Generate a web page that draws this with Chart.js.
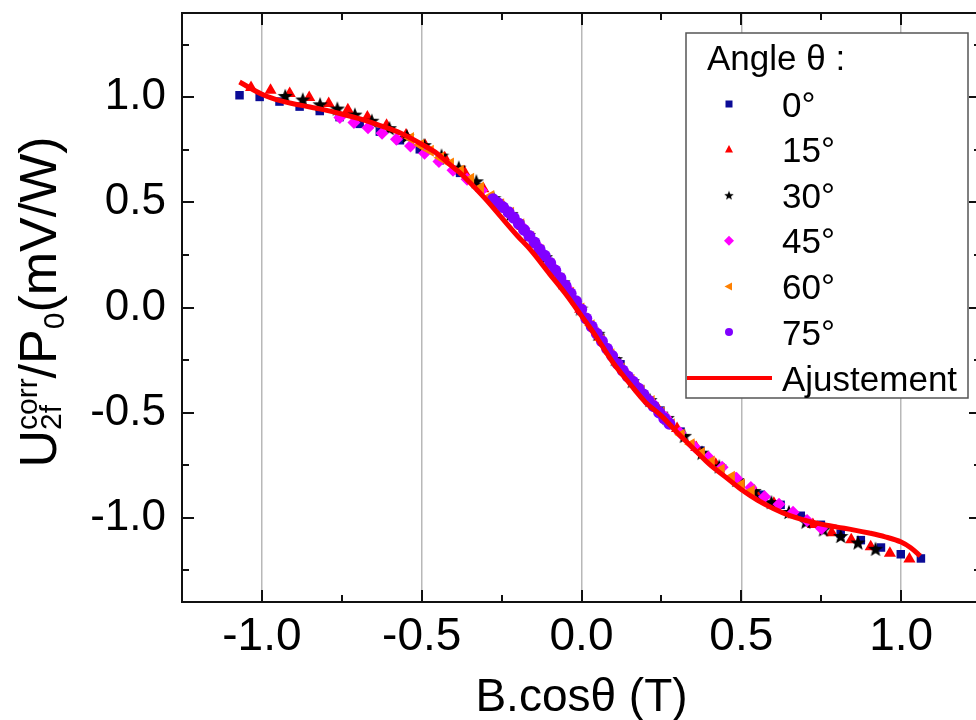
<!DOCTYPE html>
<html>
<head>
<meta charset="utf-8">
<title>U2f corr / P0 vs B.cos(theta)</title>
<script src="https://cdn.jsdelivr.net/npm/chart.js@4/dist/chart.umd.min.js"></script>
<style>
  html, body { margin: 0; padding: 0; background: #fff; overflow: hidden; }
  #wrap { width: 976px; height: 720px; overflow: hidden; }
  canvas { display: block; }
</style>
</head>
<body>
<div id="wrap"><canvas id="chart" width="990" height="720" style="width:990px;height:720px"></canvas></div>
<script>
// ---- data ----
const seriesLabels = ['0°', '15°', '30°', '45°', '60°', '75°'];
const fitLabel = 'Ajustement';
const legendTitle = 'Angle θ :';
const xTitle = 'B.cosθ (T)';

const xTicks = [-1.0, -0.5, 0.0, 0.5, 1.0];
const xMinor = [-0.75, -0.25, 0.25, 0.75];
const yTicks = [-1.0, -0.5, 0.0, 0.5, 1.0];
const yMinor = [-1.25, -0.75, -0.25, 0.25, 0.75, 1.25];

// 0 deg
const x0 = [-1.070, -1.007, -0.945, -0.882, -0.819, -0.757, -0.694, -0.631, -0.568, -0.506, -0.443, -0.380, -0.318, -0.255, -0.192, -0.130, -0.067, -0.004, 0.059, 0.122, 0.184, 0.247, 0.310, 0.372, 0.435, 0.498, 0.561, 0.623, 0.686, 0.749, 0.811, 0.874, 0.937, 0.999, 1.062];
const y0 = [1.009, 1.001, 0.979, 0.955, 0.934, 0.905, 0.873, 0.836, 0.795, 0.752, 0.700, 0.640, 0.570, 0.488, 0.395, 0.275, 0.140, -0.010, -0.145, -0.270, -0.390, -0.490, -0.590, -0.680, -0.760, -0.838, -0.890, -0.938, -0.990, -1.033, -1.075, -1.106, -1.141, -1.173, -1.193];
// 15 deg
const x15 = [-1.034, -0.973, -0.913, -0.852, -0.791, -0.731, -0.670, -0.610, -0.549, -0.489, -0.428, -0.367, -0.307, -0.246, -0.185, -0.126, -0.065, -0.004, 0.057, 0.118, 0.178, 0.239, 0.299, 0.359, 0.420, 0.481, 0.542, 0.602, 0.663, 0.724, 0.783, 0.844, 0.905, 0.965, 1.026];
const y15 = [1.046, 1.033, 1.017, 0.998, 0.970, 0.940, 0.906, 0.866, 0.820, 0.770, 0.712, 0.645, 0.565, 0.485, 0.385, 0.268, 0.135, -0.008, -0.140, -0.265, -0.380, -0.480, -0.575, -0.665, -0.745, -0.815, -0.875, -0.930, -0.985, -1.032, -1.071, -1.104, -1.137, -1.168, -1.196];
// 30 deg
const x30 = [-0.927, -0.872, -0.818, -0.764, -0.709, -0.656, -0.601, -0.546, -0.492, -0.438, -0.384, -0.329, -0.275, -0.221, -0.166, -0.113, -0.058, -0.003, 0.051, 0.106, 0.159, 0.214, 0.268, 0.322, 0.377, 0.431, 0.486, 0.540, 0.594, 0.649, 0.702, 0.757, 0.811, 0.865, 0.920];
const y30 = [1.006, 0.989, 0.966, 0.946, 0.917, 0.888, 0.853, 0.815, 0.772, 0.722, 0.665, 0.600, 0.520, 0.445, 0.345, 0.240, 0.120, -0.005, -0.125, -0.245, -0.350, -0.440, -0.525, -0.610, -0.690, -0.755, -0.820, -0.872, -0.925, -0.972, -1.018, -1.055, -1.086, -1.117, -1.147];
// 45 deg
const x45 = [-0.756, -0.712, -0.668, -0.624, -0.579, -0.535, -0.491, -0.446, -0.402, -0.358, -0.313, -0.269, -0.225, -0.180, -0.136, -0.092, -0.047, -0.003, 0.042, 0.086, 0.130, 0.175, 0.219, 0.263, 0.308, 0.352, 0.397, 0.440, 0.485, 0.530, 0.573, 0.618, 0.662, 0.706, 0.751];
const y45 = [0.903, 0.879, 0.855, 0.828, 0.800, 0.768, 0.733, 0.694, 0.652, 0.610, 0.556, 0.500, 0.445, 0.375, 0.290, 0.195, 0.095, -0.010, -0.112, -0.210, -0.300, -0.380, -0.450, -0.522, -0.595, -0.660, -0.712, -0.760, -0.812, -0.856, -0.900, -0.935, -0.973, -1.012, -1.050];
// 60 deg
const x60 = [-0.535, -0.504, -0.473, -0.441, -0.410, -0.379, -0.347, -0.316, -0.284, -0.253, -0.222, -0.190, -0.159, -0.128, -0.096, -0.065, -0.034, -0.002, 0.030, 0.061, 0.092, 0.124, 0.155, 0.186, 0.218, 0.249, 0.281, 0.312, 0.343, 0.375, 0.406, 0.437, 0.469, 0.500, 0.531];
const y60 = [0.805, 0.772, 0.745, 0.712, 0.684, 0.650, 0.612, 0.570, 0.530, 0.490, 0.450, 0.395, 0.335, 0.272, 0.205, 0.138, 0.070, -0.005, -0.085, -0.155, -0.222, -0.290, -0.345, -0.395, -0.445, -0.500, -0.555, -0.605, -0.650, -0.692, -0.732, -0.770, -0.805, -0.842, -0.872];
// 75 deg
const x75 = [-0.277, -0.261, -0.245, -0.228, -0.212, -0.196, -0.180, -0.163, -0.147, -0.131, -0.115, -0.098, -0.082, -0.066, -0.050, -0.034, -0.017, -0.001, 0.015, 0.032, 0.048, 0.064, 0.080, 0.096, 0.113, 0.129, 0.145, 0.161, 0.178, 0.194, 0.210, 0.226, 0.243, 0.259, 0.275];
const y75 = [0.515, 0.495, 0.476, 0.453, 0.427, 0.398, 0.369, 0.340, 0.309, 0.276, 0.246, 0.212, 0.176, 0.140, 0.104, 0.067, 0.030, -0.010, -0.052, -0.090, -0.125, -0.160, -0.196, -0.230, -0.268, -0.300, -0.328, -0.353, -0.385, -0.414, -0.443, -0.470, -0.499, -0.528, -0.553];
// fit curve (Ajustement)
const xFit = [-1.07, -1.0, -0.94, -0.88, -0.815, -0.75, -0.69, -0.63, -0.565, -0.5, -0.45, -0.42, -0.38, -0.35, -0.3, -0.26, -0.2, -0.16, -0.1, -0.05, 0, 0.04, 0.1, 0.15, 0.2, 0.25, 0.3, 0.35, 0.4, 0.45, 0.5, 0.55, 0.6, 0.65, 0.7, 0.75, 0.8, 0.85, 0.9, 0.95, 1.0, 1.03, 1.06];
const yFit = [1.072, 1.014, 0.982, 0.962, 0.943, 0.920, 0.895, 0.865, 0.828, 0.776, 0.730, 0.690, 0.640, 0.595, 0.515, 0.445, 0.340, 0.275, 0.160, 0.065, -0.040, -0.125, -0.265, -0.360, -0.450, -0.515, -0.595, -0.670, -0.745, -0.805, -0.865, -0.915, -0.955, -0.988, -1.012, -1.030, -1.044, -1.057, -1.072, -1.090, -1.115, -1.142, -1.181];

// ---- styles ----
const FONT = '"Liberation Sans", Arial, Helvetica, sans-serif';
const colors = ['#0b0b96', '#ff0000', '#000000', '#ff00ff', '#ff8000', '#8000ff'];

// filled five-point star, used as a point image
function makeStar(size, color) {
    const c = document.createElement('canvas');
    c.width = size;
    c.height = size;
    const g = c.getContext('2d');
    const R = size / 2, r = R * 0.42;
    g.beginPath();
    for (let i = 0; i < 10; i++) {
        const a = -Math.PI / 2 + i * Math.PI / 5;
        const rad = i % 2 ? r : R;
        g.lineTo(R + rad * Math.cos(a), R + rad * Math.sin(a) + size * 0.05);
    }
    g.closePath();
    g.fillStyle = color;
    g.fill();
    return c;
}
const starBig = makeStar(16, '#000');
const starSmall = makeStar(10, '#000');

const pointStyles = ['rect', 'triangle', starBig, 'rectRot', 'triangle', 'circle'];
const pointRot = [0, 0, 0, 0, -90, 0];
const pointSizes = [6, 7, 6, 6.5, 7, 6];

function toPoints(xs, ys) {
    return xs.map((x, i) => ({ x: x, y: ys[i] }));
}
const seriesX = [x0, x15, x30, x45, x60, x75];
const seriesY = [y0, y15, y30, y45, y60, y75];

const datasets = [{
    label: fitLabel,
    data: toPoints(xFit, yFit),
    showLine: true,
    borderColor: '#ff0000',
    borderWidth: 5,
    pointRadius: 0,
    cubicInterpolationMode: 'monotone',
    order: 0
}];
seriesLabels.forEach((lab, i) => {
    datasets.push({
        label: lab,
        data: toPoints(seriesX[i], seriesY[i]),
        pointStyle: pointStyles[i],
        rotation: pointRot[i],
        pointRadius: pointSizes[i],
        backgroundColor: colors[i],
        borderWidth: 0,
        order: 6 - i + 1
    });
});

// ---- custom legend, frame, ticks and titles ----
function legendMarker(ctx, i, x, y) {
    ctx.fillStyle = colors[i];
    ctx.beginPath();
    if (i === 0) {
        ctx.rect(x - 3.5, y - 3.5, 7, 7);
    } else if (i === 1) {
        ctx.moveTo(x, y - 4.5); ctx.lineTo(x + 4, y + 3); ctx.lineTo(x - 4, y + 3);
    } else if (i === 2) {
        ctx.drawImage(starSmall, x - 5, y - 5);
        return;
    } else if (i === 3) {
        ctx.moveTo(x, y - 5); ctx.lineTo(x + 5, y); ctx.lineTo(x, y + 5); ctx.lineTo(x - 5, y);
    } else if (i === 4) {
        ctx.moveTo(x - 4.5, y); ctx.lineTo(x + 3, y - 4); ctx.lineTo(x + 3, y + 4);
    } else {
        ctx.arc(x, y, 4, 0, Math.PI * 2);
    }
    ctx.closePath();
    ctx.fill();
}

const decorations = {
    id: 'decorations',
    afterDraw(chart) {
        const { ctx, chartArea: a, scales: { x, y } } = chart;
        ctx.save();

        // frame
        ctx.strokeStyle = '#111';
        ctx.lineWidth = 2;
        ctx.strokeRect(a.left, a.top, a.right - a.left, a.bottom - a.top);

        // inward ticks on all four sides
        ctx.lineWidth = 2;
        ctx.beginPath();
        const xt = xTicks.map(v => [v, 12]).concat(xMinor.map(v => [v, 7]));
        xt.forEach(([v, len]) => {
            const px = Math.round(x.getPixelForValue(v));
            ctx.moveTo(px, a.bottom); ctx.lineTo(px, a.bottom - len);
            ctx.moveTo(px, a.top); ctx.lineTo(px, a.top + len);
        });
        const yt = yTicks.map(v => [v, 12]).concat(yMinor.map(v => [v, 7]));
        yt.forEach(([v, len]) => {
            const py = Math.round(y.getPixelForValue(v));
            ctx.moveTo(a.left, py); ctx.lineTo(a.left + len, py);
            ctx.moveTo(a.right, py); ctx.lineTo(a.right - len, py);
        });
        ctx.stroke();

        // legend box
        const lx = 686, ly = 33, lw = 282, lh = 365;
        ctx.fillStyle = '#fff';
        ctx.fillRect(lx, ly, lw, lh);
        ctx.strokeStyle = '#555';
        ctx.lineWidth = 1.5;
        ctx.strokeRect(lx, ly, lw, lh);
        ctx.fillStyle = '#000';
        ctx.font = '35px ' + FONT;
        ctx.textAlign = 'left';
        ctx.textBaseline = 'alphabetic';
        ctx.fillText(legendTitle, 707, 70);
        seriesLabels.forEach((lab, i) => {
            const cy = 104 + i * 45.6;
            legendMarker(ctx, i, 729, cy);
            ctx.fillStyle = '#000';
            ctx.fillText(lab, 782, cy + 12.5);
        });
        const fy = 378;
        ctx.strokeStyle = '#ff0000';
        ctx.lineWidth = 4;
        ctx.beginPath();
        ctx.moveTo(687, fy); ctx.lineTo(772, fy);
        ctx.stroke();
        ctx.fillStyle = '#000';
        ctx.fillText(fitLabel, 782, fy + 12.5);

        // x axis title
        ctx.font = '46px ' + FONT;
        ctx.textAlign = 'center';
        ctx.fillText(xTitle, (a.left + a.right) / 2, 711);

        // y axis title with sub/superscripts
        const segs = [
            { text: 'U', size: 52, shift: 0 },
            { text: 'corr', size: 30, shift: -19, under: '2f', underShift: 5 },
            { text: '/P', size: 52, shift: 0 },
            { text: '0', size: 30, shift: 8 },
            { text: '(mV/W)', size: 52, shift: 0 }
        ];
        let total = 0;
        segs.forEach(s => {
            ctx.font = s.size + 'px ' + FONT;
            let w = ctx.measureText(s.text).width;
            if (s.under) w = Math.max(w, ctx.measureText(s.under).width);
            s.w = w;
            total += w;
        });
        ctx.translate(56, 302);
        ctx.rotate(-Math.PI / 2);
        ctx.textAlign = 'left';
        let cx = -total / 2;
        segs.forEach(s => {
            ctx.font = s.size + 'px ' + FONT;
            ctx.fillText(s.text, cx, s.shift);
            if (s.under) ctx.fillText(s.under, cx, s.underShift);
            cx += s.w;
        });
        ctx.restore();
    }
};

new Chart(document.getElementById('chart'), {
    type: 'scatter',
    data: { datasets: datasets },
    options: {
        responsive: false,
        animation: false,
        layout: { autoPadding: false, padding: { top: 13, right: 9, left: 0, bottom: 0 } },
        plugins: { legend: { display: false }, tooltip: { enabled: false } },
        scales: {
            x: {
                type: 'linear',
                min: -1.25,
                max: 1.25,
                afterBuildTicks: s => { s.ticks = xTicks.map(v => ({ value: v })); },
                afterFit: s => { s.height = 118; s.paddingLeft = 0; s.paddingRight = 0; },
                ticks: {
                    autoSkip: false,
                    maxRotation: 0,
                    padding: 8,
                    color: '#000',
                    font: { family: FONT, size: 46 },
                    callback: v => v.toFixed(1)
                },
                grid: { color: '#b8b8b8', lineWidth: 1.5, drawTicks: false },
                border: { display: false }
            },
            y: {
                type: 'linear',
                min: -1.4,
                max: 1.4,
                afterBuildTicks: s => { s.ticks = yTicks.map(v => ({ value: v })); },
                afterFit: s => { s.width = 182; s.paddingTop = 0; s.paddingBottom = 0; },
                ticks: {
                    autoSkip: false,
                    padding: 16,
                    color: '#000',
                    font: { family: FONT, size: 44 },
                    callback: v => v.toFixed(1)
                },
                grid: { display: false, drawTicks: false },
                border: { display: false }
            }
        }
    },
    plugins: [decorations]
});
</script>
</body>
</html>
